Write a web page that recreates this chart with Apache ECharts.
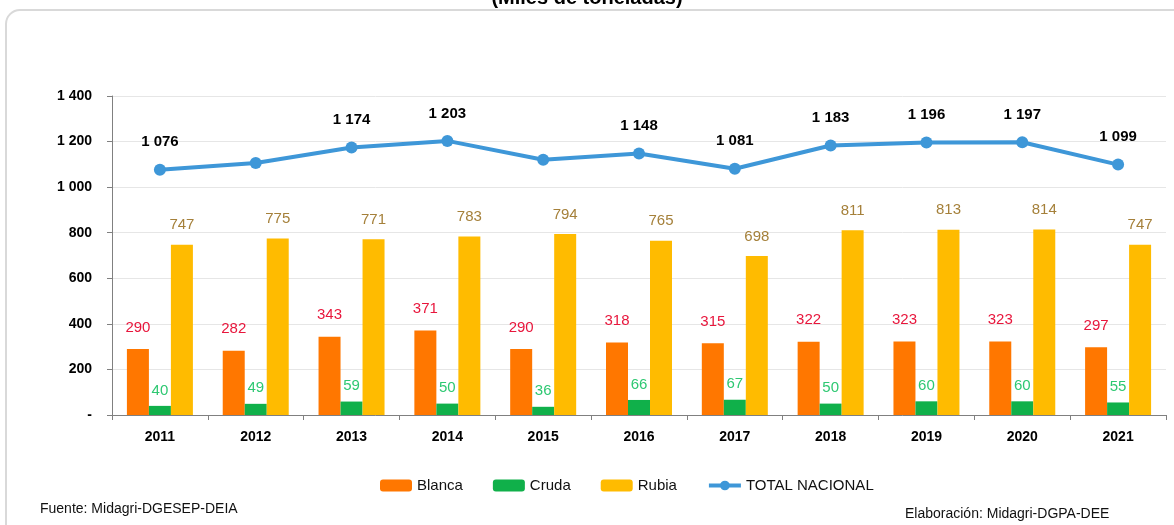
<!DOCTYPE html>
<html>
<head>
<meta charset="utf-8">
<script src="https://cdn.jsdelivr.net/npm/echarts@6/dist/echarts.min.js"></script>
</head>
<body style="margin:0;background:#fff">
<div id="container" style="width:1174px;height:525px"></div>
<script>
// datos (miles de toneladas)
var years = ['2011','2012','2013','2014','2015','2016','2017','2018','2019','2020','2021'];
var blanca = [290, 282, 343, 371, 290, 318, 315, 322, 323, 323, 297];
var cruda = [40, 49, 59, 50, 36, 66, 67, 50, 60, 60, 55];
var rubia = [747, 775, 771, 783, 794, 765, 698, 811, 813, 814, 747];
var total = [1076, 1106, 1174, 1203, 1120, 1148, 1081, 1183, 1196, 1197, 1099];
var totalSinEtiqueta = ['2012', '2015'];

function fmt(v) {
  if (v === 0) return '-';
  var s = String(v);
  return s.replace(/\B(?=(\d{3})+(?!\d))/g, ' ');
}

var font = 'Liberation Sans';
var dom = document.getElementById('container');
var myChart = echarts.init(dom);
var option = {
  animation: false,
  textStyle: { fontFamily: font },
  graphic: [
    { type: 'rect', shape: { x: 6, y: 10, width: 1200, height: 540, r: 14 },
      style: { fill: 'none', stroke: '#d9d9d9', lineWidth: 2 } },
    { type: 'text', left: 'center', top: -12,
      style: { text: '(Miles de toneladas)', font: 'bold 20px ' + font, fill: '#000' } },
    { type: 'text', left: 40, top: 502,
      style: { text: 'Fuente: Midagri-DGESEP-DEIA', font: '14px ' + font, fill: '#111' } },
    { type: 'text', left: 905, top: 507,
      style: { text: 'Elaboración: Midagri-DGPA-DEE', font: '14px ' + font, fill: '#111' } }
  ],
  legend: {
    top: 473, left: 375,
    itemWidth: 32, itemHeight: 12, itemGap: 30,
    textStyle: { fontSize: 15, color: '#111', fontFamily: font },
    data: ['Blanca', 'Cruda', 'Rubia', {
      name: 'TOTAL NACIONAL',
      itemStyle: { color: '#3e97d8' },
      lineStyle: { width: 4, color: '#3e97d8' }
    }]
  },
  grid: { left: 112, right: 8, top: 96, bottom: 110, containLabel: false },
  xAxis: {
    type: 'category', data: years,
    axisLine: { lineStyle: { color: '#808080' } },
    axisTick: { show: true, lineStyle: { color: '#808080' } },
    axisLabel: { fontWeight: 'bold', fontSize: 14, color: '#000', margin: 15 }
  },
  yAxis: {
    type: 'value', min: 0, max: 1400, interval: 200,
    axisLine: { show: true, lineStyle: { color: '#808080' } },
    axisTick: { show: true, lineStyle: { color: '#808080' } },
    splitLine: { lineStyle: { color: '#e6e6e6' } },
    axisLabel: { fontWeight: 'bold', fontSize: 14, color: '#000', margin: 20, formatter: fmt }
  },
  series: [
    { name: 'Blanca', type: 'bar', data: blanca, barWidth: 22, barGap: '0%',
      itemStyle: { color: '#ff7700' },
      label: { show: true, position: 'top', distance: 14, color: '#e8163c', fontSize: 15 } },
    { name: 'Cruda', type: 'bar', data: cruda, barWidth: 22,
      itemStyle: { color: '#10b04a' },
      label: { show: true, position: 'top', distance: 8, color: '#2ec872', fontSize: 15 } },
    { name: 'Rubia', type: 'bar', data: rubia, barWidth: 22,
      itemStyle: { color: '#ffbb00' },
      label: { show: true, position: 'top', distance: 12, color: '#a5803a', fontSize: 15 } },
    { name: 'TOTAL NACIONAL', type: 'line', data: total,
      symbol: 'circle', symbolSize: 12,
      lineStyle: { width: 4, color: '#3e97d8' },
      itemStyle: { color: '#3e97d8' },
      label: { show: true, position: 'top', distance: 14, color: '#000', fontWeight: 'bold', fontSize: 15,
        formatter: function (p) { return totalSinEtiqueta.indexOf(p.name) >= 0 ? '' : fmt(p.value); } } }
  ]
};
myChart.setOption(option);
</script>
</body>
</html>
